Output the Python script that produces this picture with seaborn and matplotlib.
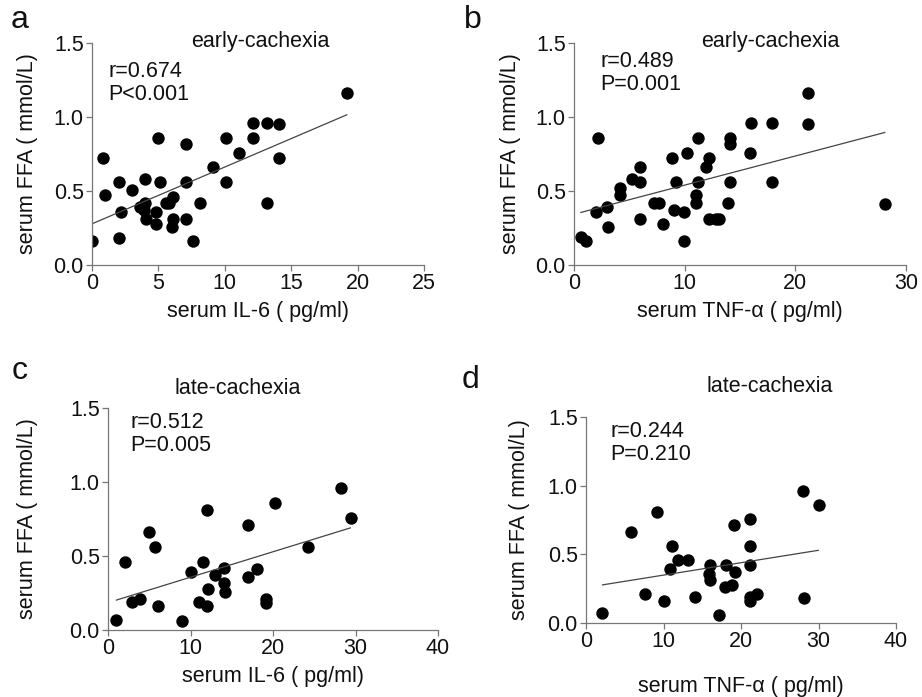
import numpy as np
import pandas as pd
import matplotlib
matplotlib.use("Agg")
import matplotlib.pyplot as plt
import seaborn as sns

# panel a: early-cachexia, IL-6 vs FFA
a_il6 = [19.2, 12.1, 13.2, 14.1, 10.1, 12.1, 5.0, 7.1, 0.8, 11.1, 14.1, 9.1,
         2.05, 4.0, 5.1, 7.1, 10.1, 3.0, 1.0, 6.1, 5.6, 5.8, 4.0, 8.1, 13.2,
         3.6, 2.2, 4.85, 3.9, 4.1, 6.1, 7.1, 4.8, 6.05, 2.05, 0.0, 7.6]
a_ffa = [1.16, 0.96, 0.96, 0.95, 0.86, 0.86, 0.86, 0.82, 0.72, 0.76, 0.72, 0.66,
         0.56, 0.58, 0.56, 0.56, 0.56, 0.51, 0.47, 0.46, 0.42, 0.42, 0.42, 0.42, 0.42,
         0.39, 0.36, 0.36, 0.37, 0.31, 0.31, 0.31, 0.28, 0.26, 0.18, 0.16, 0.16]

# panel b: early-cachexia, TNF-a vs FFA
b_tnf = [0.6, 1.1, 2.2, 2.0, 3.0, 3.1, 4.2, 4.2, 5.2, 6.0, 6.0, 6.0, 7.2, 7.7,
         8.0, 8.9, 9.0, 9.2, 10.2, 9.9, 9.9, 11.2, 11.2, 11.0, 11.0, 12.2, 11.9,
         12.2, 13.1, 12.8, 14.1, 14.1, 14.1, 13.9, 16.0, 15.9, 17.9, 17.9, 21.1,
         21.1, 28.1]
b_ffa = [0.19, 0.16, 0.86, 0.36, 0.39, 0.26, 0.52, 0.47, 0.58, 0.66, 0.56, 0.31,
         0.42, 0.42, 0.28, 0.72, 0.37, 0.56, 0.76, 0.36, 0.16, 0.86, 0.56, 0.47,
         0.42, 0.72, 0.66, 0.31, 0.31, 0.31, 0.86, 0.82, 0.56, 0.42, 0.96, 0.76,
         0.96, 0.56, 1.16, 0.95, 0.41]

# panel c: late-cachexia, IL-6 vs FFA
c_il6 = [1.0, 2.0, 2.9, 3.9, 5.0, 5.7, 6.0, 9.0, 10.1, 11.0, 11.5, 12.0, 12.1,
         12.0, 13.0, 14.0, 14.0, 14.2, 17.0, 17.0, 18.1, 19.1, 19.1, 20.3, 24.3,
         28.3, 29.4]
c_ffa = [0.07, 0.46, 0.19, 0.21, 0.66, 0.56, 0.16, 0.06, 0.39, 0.19, 0.46, 0.81,
         0.28, 0.16, 0.37, 0.42, 0.32, 0.26, 0.71, 0.36, 0.41, 0.21, 0.18, 0.86,
         0.56, 0.96, 0.76]

# panel d: late-cachexia, TNF-a vs FFA
d_tnf = [2.1, 5.8, 7.6, 9.1, 10.1, 11.1, 10.9, 11.9, 13.1, 14.1, 16.0, 15.9,
         16.0, 17.1, 17.9, 18.1, 18.9, 19.2, 19.1, 21.1, 21.1, 21.1, 21.1, 21.1,
         22.1, 28.0, 28.1, 30.0]
d_ffa = [0.07, 0.66, 0.21, 0.81, 0.16, 0.56, 0.39, 0.46, 0.46, 0.19, 0.42, 0.36,
         0.31, 0.06, 0.26, 0.42, 0.28, 0.37, 0.71, 0.76, 0.56, 0.42, 0.19, 0.16,
         0.21, 0.96, 0.18, 0.86]

letters = ["a", "b", "c", "d"]
titles = ["early-cachexia", "early-cachexia", "late-cachexia", "late-cachexia"]
stats_text = ["r=0.674\nP<0.001", "r=0.489\nP=0.001", "r=0.512\nP=0.005", "r=0.244\nP=0.210"]
xlabels = ["serum IL-6 ( pg/ml)", "serum TNF-\u03b1 ( pg/ml)",
           "serum IL-6 ( pg/ml)", "serum TNF-\u03b1 ( pg/ml)"]
xlims = [(0, 25), (0, 30), (0, 40), (0, 40)]
xticks = [[0, 5, 10, 15, 20, 25], [0, 10, 20, 30], [0, 10, 20, 30, 40], [0, 10, 20, 30, 40]]

sns.set_theme(style="ticks")
plt.rcParams["font.family"] = ["Liberation Sans", "DejaVu Sans"]

W, H = 922, 697
fig = plt.figure(figsize=(W / 100, H / 100), dpi=100)
FS = 15.5

# axes boxes in pixels: left, right, top, bottom
boxes = [(92, 424, 43, 265), (574, 906, 43, 265), (108, 438, 408, 630), (586, 896, 417, 623)]
letter_pos = [(20, 20), (473, 20), (20, 371), (470, 380)]
title_pos = [(260, 41), (770, 41), (238, 388), (770, 386)]
stat_pos = [(108, 61), (600, 51), (130, 412), (610, 421)]
ylab_x = [28, 510, 28, 520]
xlabpad = [5, 5, 5, 17]

frames = [(a_il6, a_ffa), (b_tnf, b_ffa), (c_il6, c_ffa), (d_tnf, d_ffa)]

for i, (xs, ys) in enumerate(frames):
    l, r, t, b = boxes[i]
    ax = fig.add_axes([l / W, 1 - b / H, (r - l) / W, (b - t) / H])
    df = pd.DataFrame({"x": xs, "y": ys})
    sns.regplot(data=df, x="x", y="y", ci=None, ax=ax,
                scatter_kws={"s": 80, "color": "black", "linewidths": 0, "alpha": 1},
                line_kws={"color": "#444444", "lw": 0.9})
    ax.set_xlim(*xlims[i])
    ax.set_ylim(0, 1.5)
    ax.set_xticks(xticks[i])
    ax.set_yticks([0, 0.5, 1.0, 1.5])
    ax.set_yticklabels(["0.0", "0.5", "1.0", "1.5"])
    for s in ["top", "right"]:
        ax.spines[s].set_visible(False)
    for s in ["left", "bottom"]:
        ax.spines[s].set_color("#777777")
        ax.spines[s].set_linewidth(0.9)
    ax.tick_params(axis="both", labelsize=FS, length=4, width=0.9,
                   color="#777777", labelcolor="#111111", pad=2)
    ax.set_xlabel(xlabels[i], fontsize=FS, color="#111111", labelpad=xlabpad[i])
    ax.set_ylabel("")
    fig.text(ylab_x[i] / W, 1 - ((t + b) / 2) / H, "serum FFA ( mmol/L)",
             rotation=90, ha="center", va="center", fontsize=FS, color="#111111")
    fig.text(letter_pos[i][0] / W, 1 - letter_pos[i][1] / H, letters[i],
             fontsize=23, ha="center", va="center", color="#111111")
    fig.text(title_pos[i][0] / W, 1 - title_pos[i][1] / H, titles[i],
             fontsize=FS, ha="center", va="center", color="#111111")
    fig.text(stat_pos[i][0] / W, 1 - stat_pos[i][1] / H, stats_text[i],
             fontsize=FS, ha="left", va="top", color="#111111", linespacing=1.1)

fig.savefig("out.png", dpi=100)
